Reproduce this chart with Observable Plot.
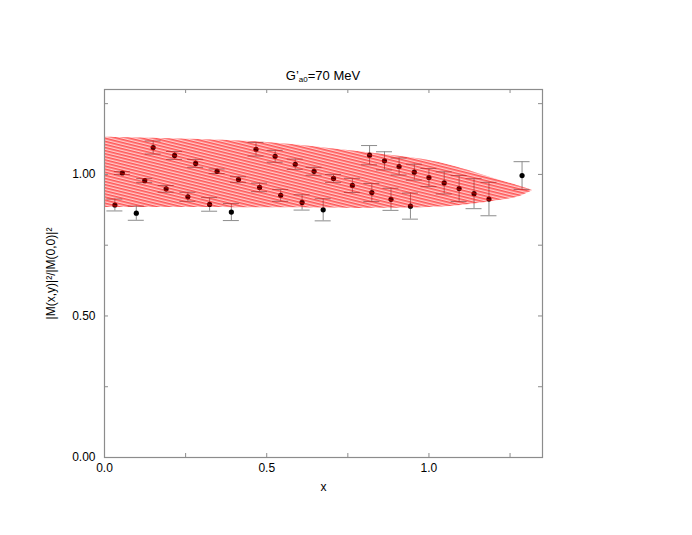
<!DOCTYPE html>
<html><head><meta charset="utf-8">
<script src="https://cdn.jsdelivr.net/npm/d3@7"></script>
<script src="https://cdn.jsdelivr.net/npm/@observablehq/plot@0.6"></script>
<style>
body{margin:0;background:#fff;font-family:"Liberation Sans",Arial,sans-serif;}
#wrap{position:relative;width:692px;height:535px;}
#title{position:absolute;top:68px;left:0;width:646px;text-align:center;font-size:13px;color:#000;z-index:2;}
#title sub{font-size:8px;vertical-align:-2px;}
#chart{position:absolute;left:0;top:0;}
</style></head><body>
<div id="wrap"><div id="title">G’<sub>a0</sub>=70 MeV</div><div id="chart"></div></div>
<script>
// data points
const xs   = [0.032,0.055,0.098,0.124,0.150,0.190,0.216,0.257,0.281,0.324,0.347,0.391,0.413,0.467,0.478,0.526,0.543,0.588,0.609,0.646,0.674,0.706,0.764,0.817,0.824,0.863,0.883,0.908,0.943,0.955,1.000,1.047,1.093,1.139,1.185,1.287];
const ys   = [0.892,1.005,0.863,0.978,1.095,0.949,1.067,0.921,1.039,0.894,1.011,0.867,0.982,1.089,0.954,1.064,0.926,1.036,0.901,1.011,0.875,0.986,0.961,1.068,0.936,1.048,0.912,1.028,0.888,1.008,0.989,0.970,0.950,0.932,0.913,0.996];
const errs = [0.021,0.005,0.025,0.007,0.023,0.012,0.014,0.016,0.014,0.024,0.008,0.030,0.010,0.024,0.015,0.021,0.021,0.018,0.027,0.014,0.039,0.014,0.025,0.034,0.032,0.032,0.039,0.030,0.046,0.028,0.032,0.039,0.046,0.053,0.059,0.049];
// band
const bandX  = [0.0,0.2,0.5,0.8,1.0,1.1,1.2,1.28,1.32];
const bandHi = [1.131,1.126,1.113,1.078,1.049,1.021,0.986,0.958,0.943];
const bandLo = [0.883,0.883,0.882,0.880,0.883,0.890,0.905,0.922,0.943];
// ticks
const xMajor = [0,0.5,1.0];
const xMinor = [0,0.25,0.5,0.75,1.0,1.25];
const yMajor = [0,0.5,1.0];
const yMinor = [0,0.25,0.5,0.75,1.0,1.25];

const W = 692, H = 535, mL = 104, mR = 150, mT = 89, mB = 78;
const xDom = [0, 1.35], yDom = [0, 1.3];
const pxX = (xDom[1]-xDom[0]) / (W-mL-mR);
const pxY = (yDom[1]-yDom[0]) / (H-mT-mB);
const tick = 4, cap = 8;

const pts = xs.map((x,i)=>({x, y: ys[i], e: errs[i]}));
const band = bandX.map((x,i)=>({x, lo: bandLo[i], hi: bandHi[i]}));

const grey = "#8c8c8c";
const svg = Plot.plot({
  width: W, height: H,
  marginLeft: mL, marginRight: mR, marginTop: mT, marginBottom: mB,
  style: {fontFamily: "'Liberation Sans', Arial, sans-serif", fontSize: "12px", background: "white", overflow: "visible"},
  x: {domain: xDom},
  y: {domain: yDom},
  marks: [
    Plot.axisX(xMajor, {tickSize: 0, tickPadding: 6, tickFormat: d3.format(".1f"), fontSize: 12, label: "x", labelAnchor: "center", labelOffset: 33, labelArrow: "none"}),
    Plot.axisY(yMajor, {tickSize: 0, tickPadding: 9, tickFormat: d3.format(".2f"), fontSize: 12, label: "|M(x,y)|²/|M(0,0)|²", labelAnchor: "center", labelOffset: 58, labelArrow: "none"}),
    // error bars
    Plot.ruleX(pts, {x: "x", y1: d=>d.y-d.e, y2: d=>d.y+d.e, stroke: grey, strokeWidth: 1}),
    Plot.ruleY(pts, {y: d=>d.y-d.e, x1: d=>d.x-cap*pxX, x2: d=>d.x+cap*pxX, stroke: grey, strokeWidth: 1}),
    Plot.ruleY(pts, {y: d=>d.y+d.e, x1: d=>d.x-cap*pxX, x2: d=>d.x+cap*pxX, stroke: grey, strokeWidth: 1}),
    Plot.dot(pts, {x: "x", y: "y", r: 2.6, fill: "black", stroke: "none"}),
    // band
    Plot.areaY(band, {x: "x", y1: "lo", y2: "hi", fill: "url(#hatch)", curve: "catmull-rom"}),
    // inward ticks on all sides
    Plot.ruleX(xMinor, {x: d=>d, y1: yDom[0], y2: yDom[0]+tick*pxY, stroke: grey}),
    Plot.ruleX(xMinor, {x: d=>d, y1: yDom[1], y2: yDom[1]-tick*pxY, stroke: grey}),
    Plot.ruleY(yMinor, {y: d=>d, x1: xDom[0], x2: xDom[0]+tick*pxX, stroke: grey}),
    Plot.ruleY(yMinor, {y: d=>d, x1: xDom[1], x2: xDom[1]-tick*pxX, stroke: grey}),
    Plot.frame({stroke: grey, strokeWidth: 1.2})
  ]
});

// hatch pattern for the band
const defs = d3.select(svg).insert("defs", ":first-child");
const pat = defs.append("pattern").attr("id", "hatch").attr("patternUnits", "userSpaceOnUse")
  .attr("width", 12).attr("height", 3).attr("patternTransform", "rotate(14)");
pat.append("rect").attr("x", 0).attr("y", 0).attr("width", 12).attr("height", 3).attr("fill", "rgba(255,0,0,0.2)");
pat.append("rect").attr("x", 0).attr("y", 0).attr("width", 12).attr("height", 1.6).attr("fill", "rgba(255,0,0,0.58)");

document.getElementById("chart").appendChild(svg);
</script>
</body></html>
